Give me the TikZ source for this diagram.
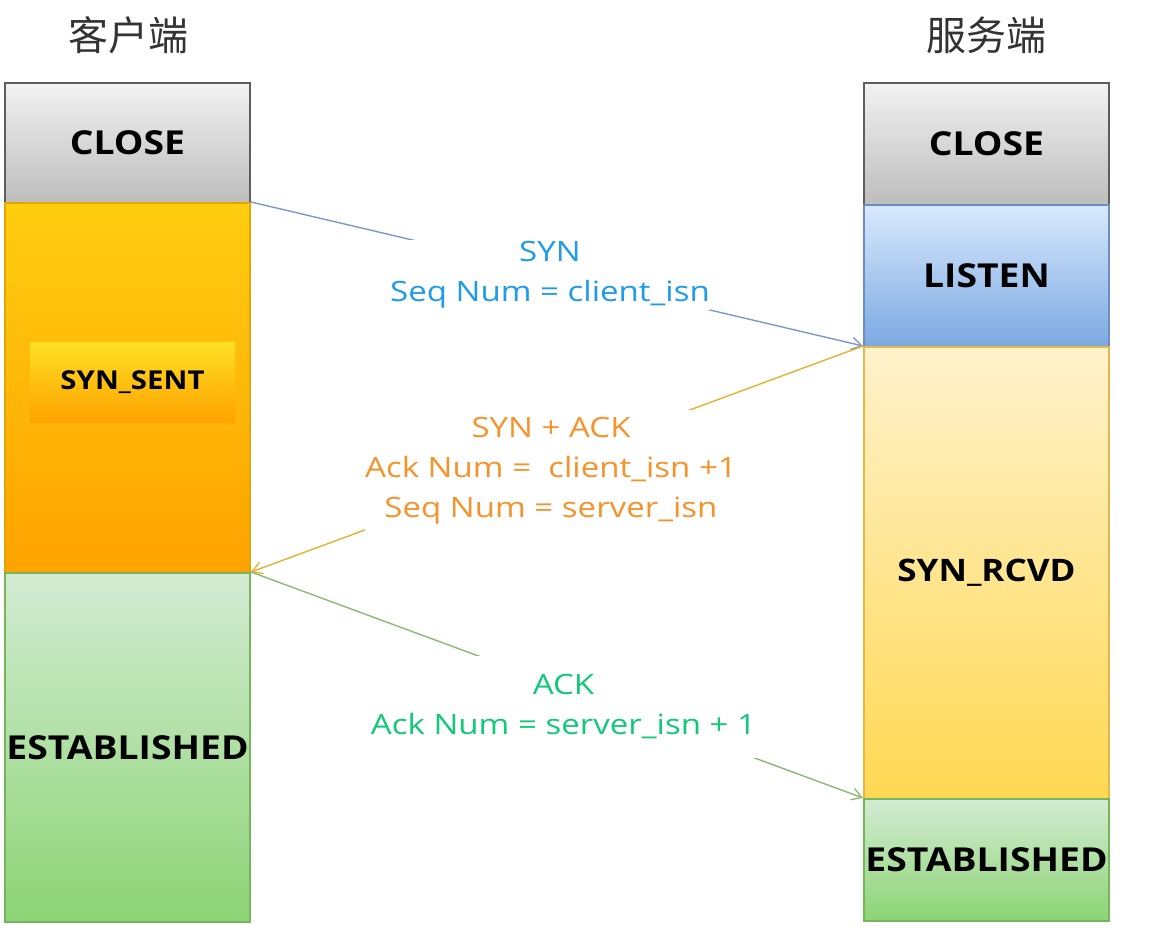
\documentclass[tikz,border=0pt]{standalone}
\usepackage{fontspec}
\setmainfont{Open Sans}
\newfontfamily\lblfont[FakeStretch=1.18]{Open Sans}
\newfontfamily\stfont[FakeStretch=1.13]{Open Sans}
\newfontfamily\cjk{Noto Sans CJK SC}
\usetikzlibrary{arrows.meta}
\definecolor{grayT}{HTML}{F2F2F2}
\definecolor{grayB}{HTML}{BDBDBD}
\definecolor{grayS}{HTML}{5E5E5E}
\definecolor{oraT}{HTML}{FFCD10}
\definecolor{oraB}{HTML}{FFA200}
\definecolor{oraS}{HTML}{E3A600}
\definecolor{grnT}{HTML}{D3EBD3}
\definecolor{grnB}{HTML}{8CD474}
\definecolor{grnS}{HTML}{76B55A}
\definecolor{bluT}{HTML}{D8E9FD}
\definecolor{bluB}{HTML}{7BA8E2}
\definecolor{bluS}{HTML}{6C8EBF}
\definecolor{yelT}{HTML}{FFF2CC}
\definecolor{yelB}{HTML}{FFD852}
\definecolor{yelS}{HTML}{E2B84A}
\definecolor{synC}{HTML}{1E9BEB}
\definecolor{sackC}{HTML}{F7932B}
\definecolor{ackC}{HTML}{12C97A}
\definecolor{synL}{HTML}{7D98C8}
\definecolor{sackL}{HTML}{E6B030}
\definecolor{ackL}{HTML}{8DB872}
\begin{document}
\begin{tikzpicture}[x=1pt,y=-1pt,
  state/.style={draw, line width=2pt, minimum width=245pt, inner sep=0pt,
    font=\stfont\bfseries\fontsize{33}{38}\selectfont, text=black},
  title/.style={font=\cjk\fontsize{40}{46}\selectfont, text=black!80, inner sep=0pt},
  msg/.style={line width=1.4pt, -{Straight Barb[length=10pt,width=12pt,line width=1.3pt]}},
  lbl/.style={fill=white, inner sep=0pt, align=center, font=\lblfont\fontsize{28}{40}\selectfont}
]
\useasboundingbox (0,0) rectangle (1152,946);
\node[title] (tl) at (128,35) {客户端};
\node[title] (tr) at (986,35) {服务端};
% client column
\node[state, minimum height=120pt, top color=grayT, bottom color=grayB, draw=grayS] (lclose) at (127.5,143) {CLOSE};
\node[state, minimum height=370pt, top color=oraT, bottom color=oraB, draw=oraS] (lsent) at (127.5,388) {};
\node[minimum width=205pt, minimum height=80pt, inner sep=0pt, top color=oraT!70!yellow!90!white, bottom color=oraB, font=\stfont\bfseries\fontsize{26}{30}\selectfont] (sent) at (132.5,382) {SYN\_SENT};
\node[state, minimum height=349pt, top color=grnT, bottom color=grnB, draw=grnS] (lest) at (127.5,747.5) {ESTABLISHED};
% server column
\node[state, minimum height=122pt, top color=grayT, bottom color=grayB, draw=grayS] (rclose) at (986.5,144) {CLOSE};
\node[state, minimum height=142pt, top color=bluT, bottom color=bluB, draw=bluS] (rlisten) at (986.5,276) {LISTEN};
\node[state, minimum height=452pt, top color=yelT, bottom color=yelB, draw=yelS, font=\stfont\bfseries\fontsize{31}{36}\selectfont] (rrcvd) at (986.5,573) {SYN\_RCVD};
\node[state, minimum height=122pt, top color=grnT, bottom color=grnB, draw=grnS] (rest) at (986.5,860) {ESTABLISHED};
% messages
\draw[msg, synL] (lsent.north east) -- (rrcvd.north west);
\draw[msg, sackL] (rrcvd.north west) -- (lest.north east);
\draw[msg, ackL] (lest.north east) -- (rest.north west);
\node[lbl, text=synC, minimum width=300pt, minimum height=70pt] (syn) at (550,275) {SYN\\Seq Num = client\_isn};
\node[lbl, text=sackC, minimum width=372pt, minimum height=122pt] (sack) at (551,471) {SYN + ACK\\Ack Num = \ client\_isn +1\\Seq Num = server\_isn};
\node[lbl, text=ackC, minimum width=383pt, minimum height=102pt] (ack) at (563.5,707) {ACK\\Ack Num = server\_isn + 1};
\end{tikzpicture}
\end{document}
